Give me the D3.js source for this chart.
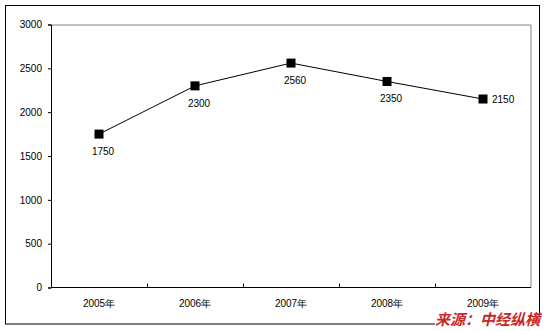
<!DOCTYPE html>
<html>
<head>
<meta charset="utf-8">
<script src="https://cdn.jsdelivr.net/npm/d3@7"></script>
<style>
  body { margin: 0; background: #fff; }
  text { font-family: "Liberation Sans", Arial, sans-serif; }
</style>
</head>
<body>
<div id="chart"></div>
<script>
var years = ["2005年", "2006年", "2007年", "2008年", "2009年"];
var values = [1750, 2300, 2560, 2350, 2150];
var yTicks = [0, 500, 1000, 1500, 2000, 2500, 3000];
var source = "来源：中经纵横";

var svgWidth = 547;
var svgHeight = 331;

var margin = { top: 24.5, right: 16, bottom: 43.5, left: 51 };
var width = svgWidth - margin.left - margin.right;
var height = svgHeight - margin.top - margin.bottom;

var svg = d3.select("#chart")
  .append("svg")
  .attr("width", svgWidth)
  .attr("height", svgHeight);

// outer frame
svg.append("rect")
  .attr("x", 5.5).attr("y", 5.5)
  .attr("width", 534).attr("height", 318.5)
  .attr("fill", "none")
  .attr("stroke", "#000");

var chartGroup = svg.append("g")
  .attr("transform", `translate(${margin.left}, ${margin.top})`);

var xScale = d3.scaleBand()
  .domain(years)
  .range([0, width]);

var yScale = d3.scaleLinear()
  .domain([0, 3000])
  .range([height, 0]);

// top and right border of plot area (grey)
chartGroup.append("path")
  .attr("d", `M0,0.5H${width}V${height}`)
  .attr("fill", "none")
  .attr("stroke", "#808080");

// y axis
var leftAxis = d3.axisLeft(yScale)
  .tickValues(yTicks)
  .tickFormat(d3.format("d"))
  .tickSize(3)
  .tickPadding(6);

var yAxis = chartGroup.append("g").call(leftAxis);
yAxis.select(".domain").attr("stroke", "#000");
yAxis.selectAll("text")
  .style("font-size", "10px")
  .attr("fill", "#000");

// x axis with inward ticks at category boundaries
var xAxis = chartGroup.append("g")
  .attr("transform", `translate(0, ${height})`);

xAxis.append("line")
  .attr("x1", 0).attr("x2", width)
  .attr("stroke", "#000");

xAxis.selectAll(".bound")
  .data(years.slice(1))
  .enter()
  .append("line")
  .attr("x1", d => Math.round(xScale(d)) + 0.5)
  .attr("x2", d => Math.round(xScale(d)) + 0.5)
  .attr("y1", 0)
  .attr("y2", -4)
  .attr("stroke", "#000");

xAxis.selectAll(".yearLabel")
  .data(years)
  .enter()
  .append("text")
  .attr("x", d => xScale(d) + xScale.bandwidth() / 2)
  .attr("y", 19)
  .attr("text-anchor", "middle")
  .style("font-size", "10px")
  .text(d => d);

// line
var data = years.map((y, i) => ({ year: y, value: values[i] }));
var cx = d => xScale(d.year) + xScale.bandwidth() / 2;

var line = d3.line()
  .x(cx)
  .y(d => yScale(d.value));

chartGroup.append("path")
  .datum(data)
  .attr("d", line)
  .attr("fill", "none")
  .attr("stroke", "#000")
  .attr("stroke-width", 1);

chartGroup.selectAll(".marker")
  .data(data)
  .enter()
  .append("rect")
  .attr("x", d => cx(d) - 4.5)
  .attr("y", d => yScale(d.value) - 4.5)
  .attr("width", 9)
  .attr("height", 9)
  .attr("fill", "#000");

// value labels: last one to the right, others below
chartGroup.selectAll(".valueLabel")
  .data(data)
  .enter()
  .append("text")
  .attr("x", (d, i) => i === data.length - 1 ? cx(d) + 9 : cx(d) + 4)
  .attr("y", (d, i) => i === data.length - 1 ? yScale(d.value) + 4 : yScale(d.value) + 21)
  .attr("text-anchor", (d, i) => i === data.length - 1 ? "start" : "middle")
  .style("font-size", "10px")
  .text(d => d.value);

// source note on a white patch
var noteBg = svg.append("rect").attr("fill", "#fff");

var note = svg.append("text")
  .attr("x", 540)
  .attr("y", 325)
  .attr("text-anchor", "end")
  .style("font-family", "'Noto Sans CJK SC', sans-serif")
  .style("font-size", "15px")
  .style("font-weight", "bold")
  .style("font-style", "italic")
  .attr("fill", "#c8282a")
  .text(source);

var bb = note.node().getBBox();
noteBg
  .attr("x", bb.x)
  .attr("y", bb.y + 6)
  .attr("width", bb.width)
  .attr("height", bb.height - 8);
</script>
</body>
</html>
